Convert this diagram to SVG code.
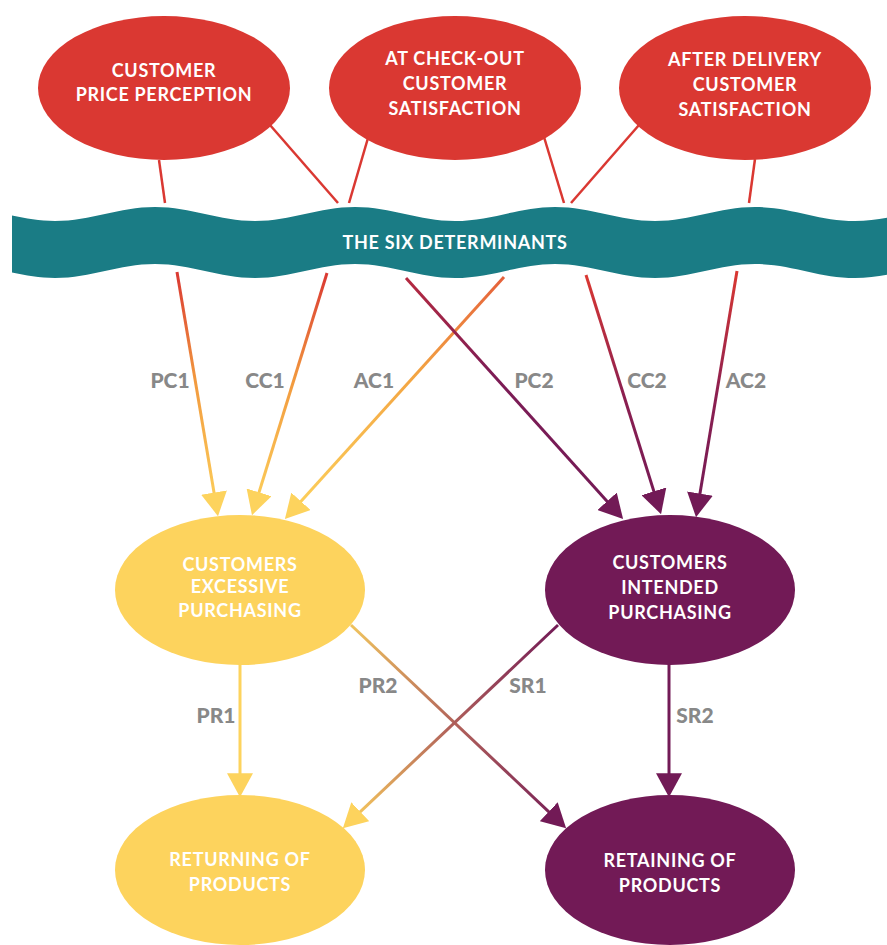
<svg xmlns="http://www.w3.org/2000/svg" width="887" height="945" viewBox="0 0 887 945">
<style>
.red{fill:#da3832}
.yel{fill:#fdd35d}
.pur{fill:#721a56}
.nt{font-family:Lato,"Open Sans","Liberation Sans",sans-serif;font-weight:700;font-size:18px;fill:#fff;text-anchor:middle;letter-spacing:0.7px}
.lb{font-family:Lato,"Open Sans","Liberation Sans",sans-serif;font-weight:900;font-size:21px;fill:#888;text-anchor:middle}
.tl{stroke:#da3832;stroke-width:2.5;fill:none}
.ar{stroke-width:3;fill:none}
</style>
<defs>
<clipPath id="bc"><rect x="12" y="190" width="875" height="100"/></clipPath>
<marker id="my" markerUnits="userSpaceOnUse" markerWidth="24" markerHeight="26" viewBox="0 0 23 25" refX="19" refY="12.5" orient="auto"><path d="M0,0 L23,12.5 L0,25 Z" fill="#fdd35d"/></marker>
<marker id="mp" markerUnits="userSpaceOnUse" markerWidth="24" markerHeight="26" viewBox="0 0 23 25" refX="19" refY="12.5" orient="auto"><path d="M0,0 L23,12.5 L0,25 Z" fill="#721a56"/></marker>
<linearGradient id="gPC1" gradientUnits="userSpaceOnUse" x1="177" y1="272" x2="218" y2="516"><stop offset="0" stop-color="#da3832"/><stop offset="0.45" stop-color="#f29a3e"/><stop offset="1" stop-color="#fdd35d"/></linearGradient>
<linearGradient id="gCC1" gradientUnits="userSpaceOnUse" x1="327" y1="273" x2="252" y2="515"><stop offset="0" stop-color="#da3832"/><stop offset="0.45" stop-color="#f29a3e"/><stop offset="1" stop-color="#fdd35d"/></linearGradient>
<linearGradient id="gAC1" gradientUnits="userSpaceOnUse" x1="504" y1="277" x2="285" y2="519"><stop offset="0" stop-color="#e5603a"/><stop offset="0.4" stop-color="#f3a442"/><stop offset="1" stop-color="#fdd35d"/></linearGradient>
<linearGradient id="gPC2" gradientUnits="userSpaceOnUse" x1="406" y1="278" x2="623" y2="519"><stop offset="0" stop-color="#b52a40"/><stop offset="0.4" stop-color="#7d1c55"/><stop offset="1" stop-color="#721a56"/></linearGradient>
<linearGradient id="gCC2" gradientUnits="userSpaceOnUse" x1="586" y1="275" x2="661" y2="514"><stop offset="0" stop-color="#da3832"/><stop offset="0.5" stop-color="#8c1f50"/><stop offset="1" stop-color="#721a56"/></linearGradient>
<linearGradient id="gAC2" gradientUnits="userSpaceOnUse" x1="737" y1="271" x2="696" y2="517"><stop offset="0" stop-color="#da3832"/><stop offset="0.5" stop-color="#8c1f50"/><stop offset="1" stop-color="#721a56"/></linearGradient>
<linearGradient id="gPR2" gradientUnits="userSpaceOnUse" x1="351" y1="625" x2="566" y2="828"><stop offset="0" stop-color="#f0c45e"/><stop offset="0.5" stop-color="#b0605a"/><stop offset="1" stop-color="#721a56"/></linearGradient>
<linearGradient id="gSR1" gradientUnits="userSpaceOnUse" x1="558" y1="625" x2="343" y2="828"><stop offset="0" stop-color="#721a56"/><stop offset="0.5" stop-color="#b0605a"/><stop offset="1" stop-color="#fdd35d"/></linearGradient>
</defs>

<g id="connectors">
<line class="tl" x1="159" y1="160" x2="165" y2="203"/>
<line class="tl" x1="270" y1="125" x2="338" y2="203"/>
<line class="tl" x1="368" y1="138" x2="349" y2="203"/>
<line class="tl" x1="544" y1="137" x2="564" y2="203"/>
<line class="tl" x1="639" y1="125" x2="571" y2="203"/>
<line class="tl" x1="755" y1="159" x2="749" y2="203"/>
<path class="ar" stroke="url(#gPC1)" d="M177,272 L217.3,512.1" marker-end="url(#my)"/>
<path class="ar" stroke="url(#gCC1)" d="M327,273 L253.2,511.2" marker-end="url(#my)"/>
<path class="ar" stroke="url(#gAC1)" d="M504,277 L287.7,516" marker-end="url(#my)"/>
<path class="ar" stroke="url(#gPC2)" d="M406,278 L620.3,516" marker-end="url(#mp)"/>
<path class="ar" stroke="url(#gCC2)" d="M586,275 L659.8,510.2" marker-end="url(#mp)"/>
<path class="ar" stroke="url(#gAC2)" d="M737,271 L696.7,513.1" marker-end="url(#mp)"/>
<path class="ar" stroke="#fdd35d" d="M240,664 L240,793" marker-end="url(#my)"/>
<path class="ar" stroke="#721a56" d="M669,664 L669,793" marker-end="url(#mp)"/>
<path class="ar" stroke="url(#gPR2)" d="M351,625 L563.1,825.3" marker-end="url(#mp)"/>
<path class="ar" stroke="url(#gSR1)" d="M558,625 L345.9,825.3" marker-end="url(#my)"/>
</g>

<g id="labels">
<text class="lb" x="170" y="388">PC1</text>
<text class="lb" x="265" y="388">CC1</text>
<text class="lb" x="374" y="388">AC1</text>
<text class="lb" x="534" y="388">PC2</text>
<text class="lb" x="647" y="388">CC2</text>
<text class="lb" x="746" y="388">AC2</text>
<text class="lb" x="216" y="723">PR1</text>
<text class="lb" x="378" y="693">PR2</text>
<text class="lb" x="528" y="693">SR1</text>
<text class="lb" x="695" y="723">SR2</text>
</g>

<g id="banner">
<path clip-path="url(#bc)" fill="#1a7c85" d="M-45,207 C-8.6,207 18.6,221 55,221 C91.4,221 118.6,207 155,207 C191.4,207 218.6,221 255,221 C291.4,221 318.6,207 355,207 C391.4,207 418.6,221 455,221 C491.4,221 518.6,207 555,207 C591.4,207 618.6,221 655,221 C691.4,221 718.6,207 755,207 C791.4,207 818.6,221 855,221 C891.4,221 918.6,207 955,207 L955,264 C918.6,264 891.4,278 855,278 C818.6,278 791.4,264 755,264 C718.6,264 691.4,278 655,278 C618.6,278 591.4,264 555,264 C518.6,264 491.4,278 455,278 C418.6,278 391.4,264 355,264 C318.6,264 291.4,278 255,278 C218.6,278 191.4,264 155,264 C118.6,264 91.4,278 55,278 C18.6,278 -8.6,264 -45,264 Z"/>
<text class="nt" x="455" y="249">THE SIX DETERMINANTS</text>
</g>

<g id="price">
<ellipse class="red" cx="164" cy="88" rx="126" ry="72"/>
<text class="nt" x="164" y="77">CUSTOMER</text>
<text class="nt" x="164" y="101">PRICE PERCEPTION</text>
</g>
<g id="checkout">
<ellipse class="red" cx="455" cy="88" rx="126" ry="72"/>
<text class="nt" x="455" y="65">AT CHECK-OUT</text>
<text class="nt" x="455" y="90">CUSTOMER</text>
<text class="nt" x="455" y="115">SATISFACTION</text>
</g>
<g id="delivery">
<ellipse class="red" cx="745" cy="88" rx="126" ry="72"/>
<text class="nt" x="745" y="65.5">AFTER DELIVERY</text>
<text class="nt" x="745" y="90.5">CUSTOMER</text>
<text class="nt" x="745" y="115.5">SATISFACTION</text>
</g>
<g id="excessive">
<ellipse class="yel" cx="240" cy="590" rx="125" ry="75"/>
<text class="nt" x="240" y="571">CUSTOMERS</text>
<text class="nt" x="240" y="593">EXCESSIVE</text>
<text class="nt" x="240" y="617">PURCHASING</text>
</g>
<g id="intended">
<ellipse class="pur" cx="670" cy="590" rx="125" ry="75"/>
<text class="nt" x="670" y="569">CUSTOMERS</text>
<text class="nt" x="670" y="594">INTENDED</text>
<text class="nt" x="670" y="619">PURCHASING</text>
</g>
<g id="returning">
<ellipse class="yel" cx="240" cy="870" rx="125" ry="75"/>
<text class="nt" x="240" y="866">RETURNING OF</text>
<text class="nt" x="240" y="891">PRODUCTS</text>
</g>
<g id="retaining">
<ellipse class="pur" cx="670" cy="870" rx="125" ry="75"/>
<text class="nt" x="670" y="867">RETAINING OF</text>
<text class="nt" x="670" y="892">PRODUCTS</text>
</g>
</svg>
